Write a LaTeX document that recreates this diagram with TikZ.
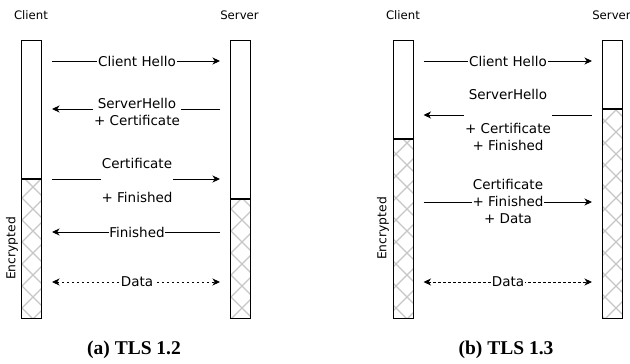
\documentclass[tikz,border=0pt]{standalone}
\usepackage{fontspec}
\setsansfont{DejaVu Sans}
\newfontfamily\capfont{Liberation Serif}
\usetikzlibrary{arrows.meta}

\tikzset{
  tip/.tip={Stealth[length=7.5pt,width=7pt,inset=2.2pt]},
  msg/.style={draw=black, line width=0.9pt, -tip},
  datamsg/.style={draw=black, line width=0.9pt, tip-tip, dash pattern=on 2.5pt off 2.5pt},
  lbl/.style={font=\sffamily\fontsize{13.5}{17}\selectfont, fill=white, inner sep=0.8pt, align=center},
  party/.style={font=\sffamily\fontsize{11.7}{14}\selectfont, inner sep=0pt},
  enc/.style={font=\sffamily\fontsize{12.3}{14}\selectfont, inner sep=0pt, rotate=90},
  lifeline/.style={draw=black, line width=1pt, minimum width=20pt, minimum height=278pt, inner sep=0pt},
  splitline/.style={draw=black, line width=1.2pt},
  hatchline/.style={draw=gray!45, line width=1.3pt},
  subcap/.style={font=\capfont\bfseries\fontsize{19.5}{22}\selectfont, inner sep=0pt},
}

% cross-hatching of an encrypted section: #1 = x left, #2 = y top, #3 = x right, #4 = y bottom
\newcommand{\crosshatch}[4]{%
  \begin{scope}
    \clip (#1,#2) rectangle (#3,#4);
    \foreach \k in {-15,...,45} {
      \draw[hatchline] (\k*22,0) -- ++(400,400);
      \draw[hatchline] (\k*22,0) -- ++(-400,400);
    }
  \end{scope}}

\begin{document}
\begin{tikzpicture}[x=1pt, y=-1pt]
  \useasboundingbox (0,0) rectangle (630,364);

  % ---------------- (a) TLS 1.2 ----------------
  \crosshatch{21.5}{179}{41.5}{318}
  \crosshatch{230.5}{199}{250.5}{318}
  \node[lifeline] (cliA) at (31.5,179) {};
  \node[lifeline] (srvA) at (240.5,179) {};
  \draw[splitline] (cliA.west |- 0,179) -- (cliA.east |- 0,179);
  \draw[splitline] (srvA.west |- 0,199) -- (srvA.east |- 0,199);

  \node[party] (cliAname) at (31,15) {Client};
  \node[party] (srvAname) at (239.5,15) {Server};
  \node[enc] (encA) at (12,248.5) {Encrypted};

  \coordinate (a1l) at (52,61);   \coordinate (a1r) at (220,61);
  \coordinate (a2l) at (52,109);  \coordinate (a2r) at (220,109);
  \coordinate (a3l) at (52,179);  \coordinate (a3r) at (220,179);
  \coordinate (a4l) at (52,232);  \coordinate (a4r) at (220,232);
  \coordinate (a5l) at (52,282);  \coordinate (a5r) at (220,282);

  \draw[msg] (a1l) -- (a1r);
  \node[lbl] (a1t) at (137,61) {Client Hello};
  \draw[msg] (a2r) -- (a2l);
  \node[lbl] (a2t) at (137,111.5) {ServerHello\\+ Certificate};
  \draw[msg] (a3l) -- (a3r);
  \node[lbl] (a3t) at (137,180) {Certificate\\[17pt]+ Finished};
  \draw[msg] (a4r) -- (a4l);
  \node[lbl] (a4t) at (137,232) {Finished};
  \draw[datamsg] (a5l) -- (a5r);
  \node[lbl] (a5t) at (137,282) {Data};

  \node[subcap] (capA) at (134,350) {(a) TLS 1.2};

  % ---------------- (b) TLS 1.3 ----------------
  \crosshatch{393.5}{139}{413.5}{318}
  \crosshatch{602}{109}{622}{318}
  \node[lifeline] (cliB) at (403.5,179) {};
  \node[lifeline] (srvB) at (612,179) {};
  \draw[splitline] (cliB.west |- 0,139) -- (cliB.east |- 0,139);
  \draw[splitline] (srvB.west |- 0,109) -- (srvB.east |- 0,109);

  \node[party] (cliBname) at (403,15) {Client};
  \node[party] (srvBname) at (611.5,15) {Server};
  \node[enc] (encB) at (383,228.5) {Encrypted};

  \coordinate (b1l) at (423.5,61);  \coordinate (b1r) at (592,61);
  \coordinate (b2l) at (423.5,115); \coordinate (b2r) at (592,115);
  \coordinate (b3l) at (423.5,202); \coordinate (b3r) at (592,202);
  \coordinate (b4l) at (423.5,282); \coordinate (b4r) at (592,282);

  \draw[msg] (b1l) -- (b1r);
  \node[lbl] (b1t) at (508,61) {Client Hello};
  \draw[msg] (b2r) -- (b2l);
  \node[lbl] (b2t) at (508,120) {ServerHello\\[17pt]+ Certificate\\+ Finished};
  \draw[msg] (b3l) -- (b3r);
  \node[lbl] (b3t) at (508,201.5) {Certificate\\+ Finished\\+ Data};
  \draw[datamsg] (b4l) -- (b4r);
  \node[lbl] (b4t) at (508,282) {Data};

  \node[subcap] (capB) at (506,350) {(b) TLS 1.3};
\end{tikzpicture}
\end{document}
